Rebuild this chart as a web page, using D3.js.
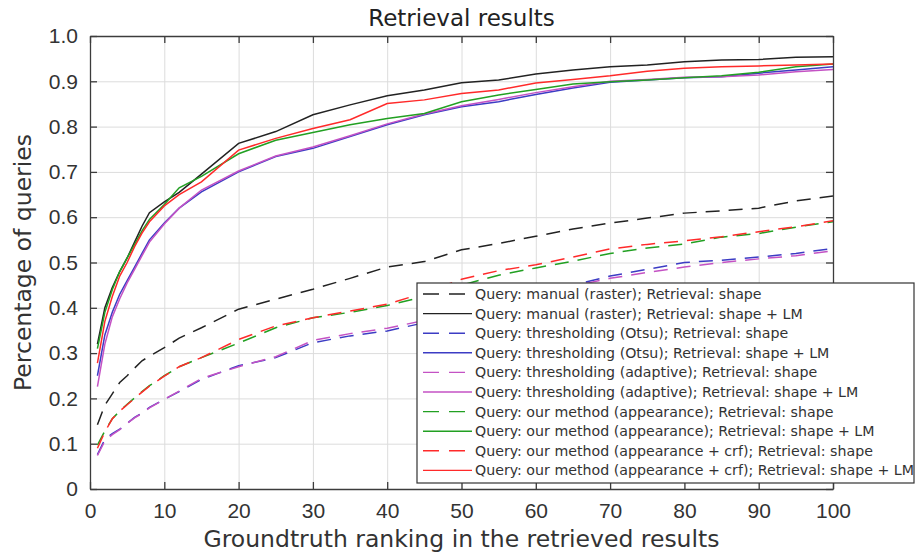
<!DOCTYPE html>
<html>
<head>
<meta charset="utf-8">
<script src="https://cdn.jsdelivr.net/npm/d3@7"></script>
<style>
  body { margin: 0; background: #fff; }
  svg { display: block; font-family: "DejaVu Sans", sans-serif; }
  .chart__axis path, .chart__axis line { stroke: #3c3c3c; stroke-width: 1.3; }
  .chart__axis text { fill: #333; font-size: 21px; }
  .chart__grid line { stroke: #dcdcdc; stroke-width: 1; }
  .chart__grid path { display: none; }
  .chart__line { fill: none; stroke-width: 1.5; }
</style>
</head>
<body>
<div id="chart"></div>
<script>
// groundtruth ranks at which the curves were read
const ranks = [1, 2, 3, 4, 5, 6, 7, 8, 10, 12, 15, 20, 25, 30, 35, 40, 45, 50, 55, 60, 65, 70, 75, 80, 85, 90, 95, 100];

const manualShape   = [.142, .185, .210, .235, .250, .267, .283, .293, .312, .333, .356, .397, .419, .441, .465, .490, .502, .528, .542, .558, .574, .587, .598, .609, .614, .620, .636, .647];
const manualLM      = [.320, .400, .445, .480, .510, .545, .580, .610, .634, .655, .695, .763, .789, .826, .848, .868, .881, .897, .903, .916, .925, .932, .936, .943, .947, .948, .953, .954];
const otsuShape     = [.076, .110, .122, .132, .145, .158, .168, .180, .198, .215, .242, .272, .290, .323, .338, .349, .367, .400, .420, .435, .450, .470, .485, .500, .505, .512, .520, .531];
const otsuLM        = [.250, .340, .390, .430, .460, .490, .520, .550, .587, .620, .656, .700, .734, .752, .778, .804, .826, .844, .855, .871, .885, .898, .903, .908, .910, .918, .925, .932];
const adaptiveShape = [.074, .106, .120, .131, .145, .157, .167, .179, .198, .216, .244, .270, .292, .328, .343, .355, .372, .400, .418, .432, .448, .465, .478, .490, .500, .508, .515, .526];
const adaptiveLM    = [.226, .320, .380, .420, .455, .485, .515, .545, .585, .620, .660, .702, .735, .755, .780, .806, .828, .846, .860, .875, .888, .900, .904, .909, .910, .914, .921, .926];
const appShape      = [.097, .128, .155, .172, .187, .201, .215, .228, .250, .270, .290, .322, .356, .378, .390, .405, .425, .450, .472, .488, .503, .520, .532, .541, .556, .564, .578, .590];
const appLM         = [.310, .390, .440, .480, .510, .540, .570, .595, .628, .665, .690, .740, .770, .787, .804, .818, .829, .855, .870, .882, .894, .899, .903, .908, .912, .920, .932, .938];
const crfShape      = [.090, .126, .155, .172, .186, .200, .214, .227, .249, .270, .290, .330, .360, .378, .393, .408, .433, .463, .482, .495, .512, .530, .540, .548, .557, .568, .579, .592];
const crfLM         = [.278, .370, .425, .470, .500, .535, .565, .590, .625, .650, .678, .748, .774, .796, .815, .851, .859, .873, .881, .896, .904, .912, .922, .929, .932, .934, .936, .938];

const seriesNames = [
  'Query: manual (raster); Retrieval: shape',
  'Query: manual (raster); Retrieval: shape + LM',
  'Query: thresholding (Otsu); Retrieval: shape',
  'Query: thresholding (Otsu); Retrieval: shape + LM',
  'Query: thresholding (adaptive); Retrieval: shape',
  'Query: thresholding (adaptive); Retrieval: shape + LM',
  'Query: our method (appearance); Retrieval: shape',
  'Query: our method (appearance); Retrieval: shape + LM',
  'Query: our method (appearance + crf); Retrieval: shape',
  'Query: our method (appearance + crf); Retrieval: shape + LM'
];
const seriesValues = [manualShape, manualLM, otsuShape, otsuLM, adaptiveShape, adaptiveLM, appShape, appLM, crfShape, crfLM];

const xTicks = [0, 10, 20, 30, 40, 50, 60, 70, 80, 90, 100];
const yTicks = [0, 0.1, 0.2, 0.3, 0.4, 0.5, 0.6, 0.7, 0.8, 0.9, 1.0];

const defaults = {
  width : 915,
  height: 556,
  margin: {
    top   : 36,
    right : 82,
    bottom: 67,
    left  : 90
  },
  tickSize: 7,
  colors: ['#222', '#222', '#3c3cc4', '#3c3cc4', '#c452c4', '#c452c4', '#22a022', '#22a022', '#ff2a2a', '#ff2a2a'],
  dash: '14,9'
};

const { width, height, margin, tickSize, colors, dash } = defaults;
const innerWidth = width - margin.left - margin.right;
const innerHeight = height - margin.top - margin.bottom;

const svg = d3.select('#chart')
  .append('svg')
    .attr('width', width)
    .attr('height', height);

const g = svg
  .append('g')
    .attr('transform', `translate(${margin.left}, ${margin.top})`);

const scaleX = d3.scaleLinear().domain([0, 100]).range([0, innerWidth]);
const scaleY = d3.scaleLinear().domain([0, 1]).range([innerHeight, 0]);

// grid
g.append('g')
    .attr('class', 'chart__grid')
    .attr('transform', `translate(0, ${innerHeight})`)
    .call(d3.axisBottom(scaleX).tickValues(xTicks).tickSize(-innerHeight))
    .call(sel => sel.selectAll('text').remove());

g.append('g')
    .attr('class', 'chart__grid')
    .call(d3.axisLeft(scaleY).tickValues(yTicks).tickSize(-innerWidth))
    .call(sel => sel.selectAll('text').remove());

// curves
g.append('clipPath')
    .attr('id', 'plot-clip')
  .append('rect')
    .attr('width', innerWidth)
    .attr('height', innerHeight);

const line = d3.line()
  .x((d, i) => scaleX(ranks[i]))
  .y(d => scaleY(d));

g.append('g')
    .attr('clip-path', 'url(#plot-clip)')
  .selectAll('.chart__line')
  .data(seriesValues)
  .enter()
  .append('path')
    .attr('class', 'chart__line')
    .attr('stroke', (d, i) => colors[i])
    .attr('stroke-dasharray', (d, i) => i % 2 === 0 ? dash : null)
    .attr('d', line);

// axes, ticks pointing inwards
g.append('g')
    .attr('class', 'chart__axis chart__axis--x')
    .attr('transform', `translate(0, ${innerHeight})`)
    .call(d3.axisBottom(scaleX).tickValues(xTicks).tickSizeInner(-tickSize).tickSizeOuter(0).tickPadding(14));

g.append('g')
    .attr('class', 'chart__axis chart__axis--y')
    .call(d3.axisLeft(scaleY).tickValues(yTicks).tickSizeInner(-tickSize).tickSizeOuter(0).tickPadding(12)
      .tickFormat(d => d === 0 ? '0' : d3.format('.1f')(d)));

g.append('g')
    .attr('class', 'chart__axis')
    .call(d3.axisTop(scaleX).tickValues(xTicks).tickSizeInner(-tickSize).tickSizeOuter(0))
    .call(sel => sel.selectAll('text').remove());

g.append('g')
    .attr('class', 'chart__axis')
    .attr('transform', `translate(${innerWidth}, 0)`)
    .call(d3.axisRight(scaleY).tickValues(yTicks).tickSizeInner(-tickSize).tickSizeOuter(0))
    .call(sel => sel.selectAll('text').remove());

// titles
svg.append('text')
    .attr('x', margin.left + innerWidth / 2)
    .attr('y', 26)
    .attr('text-anchor', 'middle')
    .attr('fill', '#222')
    .attr('font-size', 23)
    .text('Retrieval results');

svg.append('text')
    .attr('x', margin.left + innerWidth / 2)
    .attr('y', 547)
    .attr('text-anchor', 'middle')
    .attr('fill', '#333')
    .attr('font-size', 23.5)
    .text('Groundtruth ranking in the retrieved results');

svg.append('text')
    .attr('transform', `translate(31, ${margin.top + innerHeight / 2}) rotate(-90)`)
    .attr('text-anchor', 'middle')
    .attr('fill', '#333')
    .attr('font-size', 23.5)
    .text('Percentage of queries');

// legend
const legend = svg
  .append('g')
    .attr('transform', 'translate(417, 283)');

legend.append('rect')
    .attr('width', 497)
    .attr('height', 200)
    .attr('fill', '#fff')
    .attr('stroke', '#333')
    .attr('stroke-width', 1.2);

const item = legend.selectAll('.legend__item')
  .data(seriesNames)
  .enter()
  .append('g')
    .attr('class', 'legend__item')
    .attr('transform', (d, i) => `translate(0, ${11 + i * 19.6})`);

item.append('line')
    .attr('x1', 6)
    .attr('x2', 55)
    .attr('stroke', (d, i) => colors[i])
    .attr('stroke-width', 1.4)
    .attr('stroke-dasharray', (d, i) => i % 2 === 0 ? '16,10' : null);

item.append('text')
    .attr('x', 58)
    .attr('dy', '0.35em')
    .attr('font-size', 14.2)
    .attr('fill', '#333')
    .text(d => d);
</script>
</body>
</html>
